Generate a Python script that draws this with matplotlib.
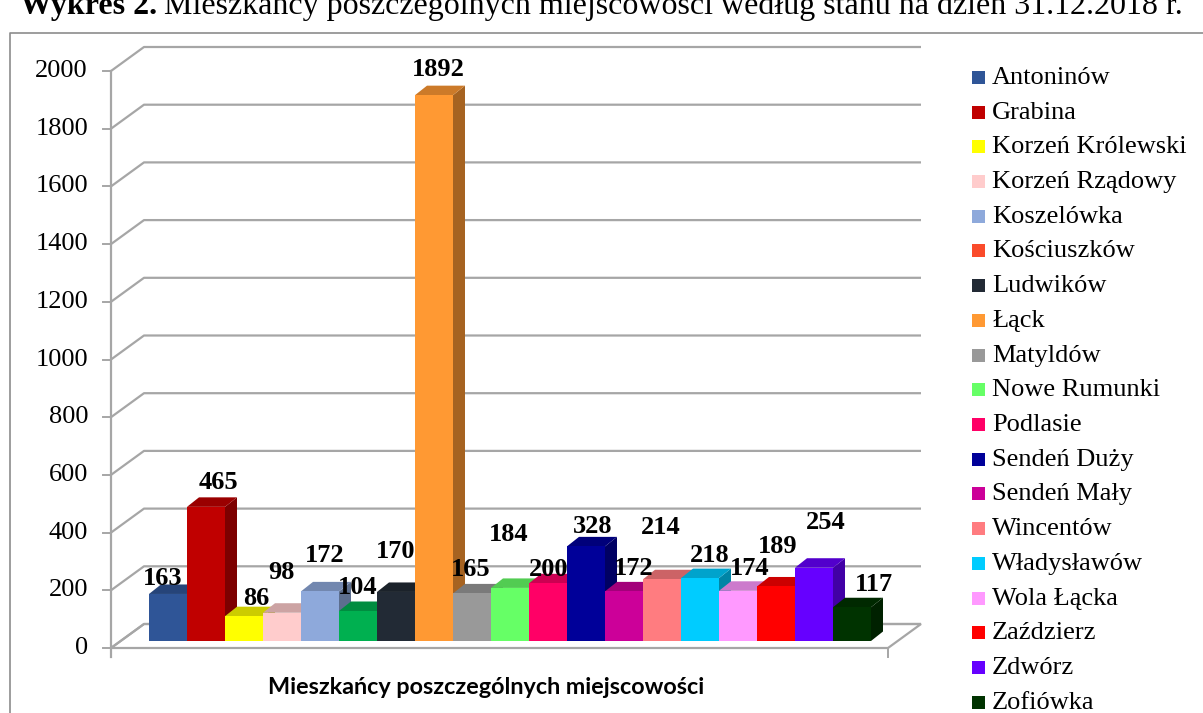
import matplotlib
matplotlib.use("Agg")
import matplotlib.pyplot as plt
from matplotlib.patches import Polygon, Rectangle
from matplotlib.colors import to_rgb

# ---------------- data ----------------
places = ["Antoninów", "Grabina", "Korzeń Królewski", "Korzeń Rządowy", "Koszelówka",
          "Kościuszków", "Ludwików", "Łąck", "Matyldów", "Nowe Rumunki", "Podlasie",
          "Sendeń Duży", "Sendeń Mały", "Wincentów", "Władysławów", "Wola Łącka",
          "Zaździerz", "Zdwórz", "Zofiówka"]
residents = [163, 465, 86, 98, 172, 104, 170, 1892, 165, 184, 200, 328, 172, 214,
             218, 174, 189, 254, 117]
bar_colors = ["#2F5597", "#C00000", "#FFFF00", "#FFCCCC", "#8EA9DB", "#00B050",
              "#222A35", "#FF9933", "#999999", "#66FF66", "#FF0066", "#000099",
              "#CC0099", "#FF7C80", "#00CCFF", "#FF99FF", "#FF0000", "#6600FF",
              "#003300"]
legend_colors = bar_colors.copy()
legend_colors[5] = "#FA4B2B"
y_ticks = [0, 200, 400, 600, 800, 1000, 1200, 1400, 1600, 1800, 2000]
axis_title = "Mieszkańcy poszczególnych miejscowości"
title_bold = "Wykres 2."
title_rest = "Mieszkańcy poszczególnych miejscowości według stanu na dzień 31.12.2018 r."

# label offsets (pixels) relative to bar top centre  (style only)
lab_dx = [-5, 12, 12, -1, 5, 0, 0, 4, -1, -1, 1, 7, 10, -1, 10, 12, 2, 12, 22]
lab_dy = [15, 24, 18, 40, 36, 23, 40, 26, 24, 53, 14, 20, 23, 52, 23, 22, 40, 45, 23]

# ---------------- geometry (pixels) ----------------
W, H = 1203, 713
SLOT = 38.0      # px per bar
UNIT = 0.2885    # px per resident
X0, Y0 = 149, 641

fig = plt.figure(figsize=(W / 100, H / 100), dpi=100)
ax = fig.add_axes([0, 0, 1, 1])
ax.axis("off")
ax.set_xlim(-X0 / SLOT, (W - X0) / SLOT)
ax.set_ylim((Y0 - H) / UNIT, Y0 / UNIT)


def dxp(px):
    return px / SLOT


def dyp(px):
    return px / UNIT


def P(px, py):
    return ((px - X0) / SLOT, (Y0 - py) / UNIT)


n = len(residents)
grid_c = "#A6A6A6"
floor_y = -dyp(7)
left_x = -dxp(38)
right_x = n + dxp(17)
wall_dx, wall_dy = dxp(33), dyp(24)

# floor
floor = Polygon([(left_x, floor_y), (right_x, floor_y),
                 (right_x + wall_dx, floor_y + wall_dy),
                 (left_x + wall_dx, floor_y + wall_dy)],
                closed=True, facecolor="white", edgecolor=grid_c, lw=1.6, zorder=1)
ax.add_patch(floor)

# grid lines + ticks
for v in y_ticks:
    yf = v + floor_y
    ax.plot([left_x, left_x + wall_dx, right_x + wall_dx],
            [yf, yf + wall_dy, yf + wall_dy], color=grid_c, lw=1.6, zorder=1,
            solid_capstyle="butt")
    ax.plot([left_x - dxp(8), left_x], [yf, yf], color=grid_c, lw=1.4, zorder=1)
    ax.text(left_x - dxp(23), yf, str(v), ha="right", va="center",
            fontsize=19, family="Liberation Serif", color="black")

ax.plot([left_x, left_x], [floor_y - dyp(9), y_ticks[-1] + floor_y],
        color=grid_c, lw=1.6, zorder=1)
ax.plot([right_x, right_x], [floor_y, floor_y - dyp(9)], color=grid_c, lw=1.4, zorder=1)

# bars
bdx, bdy = dxp(12), dyp(9.5)


def shade(c, f):
    r, g, b = to_rgb(c)
    return (r * f, g * f, b * f)


for i, (v, c) in enumerate(zip(residents, bar_colors)):
    z = 3 + i * 0.01
    side = Polygon([(i + 1, 0), (i + 1 + bdx, bdy), (i + 1 + bdx, v + bdy), (i + 1, v)],
                   closed=True, facecolor=shade(c, 0.65), edgecolor="none", zorder=z)
    top = Polygon([(i, v), (i + 1, v), (i + 1 + bdx, v + bdy), (i + bdx, v + bdy)],
                  closed=True, facecolor=shade(c, 0.8), edgecolor="none", zorder=z)
    front = Rectangle((i, 0), 1, v, facecolor=c, edgecolor="none", zorder=z + 0.001)
    ax.add_patch(side)
    ax.add_patch(top)
    ax.add_patch(front)

for i, v in enumerate(residents):
    ax.annotate(str(v), xy=(i + 0.5, v), xytext=(lab_dx[i], lab_dy[i]),
                textcoords="offset pixels", ha="center", va="center",
                fontsize=19, fontweight="bold", family="Liberation Serif", zorder=10)

# axis title
ax.text(*P(486, 688), axis_title, ha="center", va="center", fontsize=16.8,
        fontweight="bold", family="Lato")

# legend (manual)
for k, (name, c) in enumerate(zip(places, legend_colors)):
    yc = 77.5 + 34.7 * k
    x0, y0 = P(972, yc + 6.5)
    x1, y1 = P(985, yc - 6.5)
    ax.add_patch(Rectangle((x0, y0), x1 - x0, y1 - y0, facecolor=c, edgecolor="none"))
    ax.text(*P(992, yc + 6.5), name, ha="left", va="baseline", fontsize=19,
            family="Liberation Serif")

# outer border
ax.plot(*zip(P(10, H + 5), P(10, 33), P(W + 5, 33)), color="#8C8C8C", lw=1.2)

# title (cut off at top of image, as in the source)
fig.canvas.draw()
r = fig.canvas.get_renderer()
t2 = ax.text(*P(1183, 14), title_rest, ha="right", va="baseline", fontsize=23,
             family="Liberation Serif")
bb = t2.get_window_extent(renderer=r)
xl = bb.x0 - 7
ax.text(*P(xl, 14), title_bold, ha="right", va="baseline", fontsize=23,
        fontweight="bold", family="Liberation Serif")

fig.savefig("out.png", dpi=100)
